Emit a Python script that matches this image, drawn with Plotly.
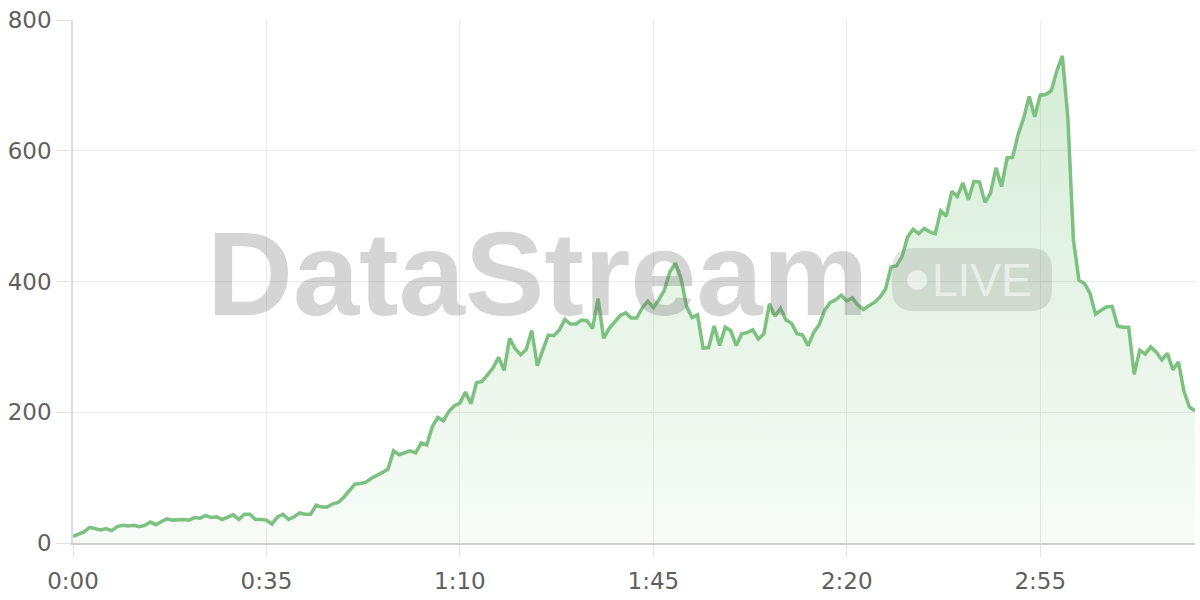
import plotly.graph_objects as go

# ---- data (one value per second) ----
values = [
    10, 14, 17, 24, 22, 20, 22, 19, 25, 27,
    26, 27, 25, 27, 32, 28, 33, 37, 35, 36,
    36, 35, 39, 38, 42, 39, 40, 36, 39, 43,
    36, 44, 44, 36, 36, 35, 29, 40, 44, 36,
    40, 46, 44, 44, 58, 55, 55, 60, 62, 70,
    80, 90, 91, 93, 99, 103, 108, 113, 141, 135,
    138, 141, 138, 153, 150, 178, 192, 187, 201, 210,
    214, 231, 213, 245, 247, 257, 268, 284, 264, 313,
    297, 288, 296, 325, 271, 295, 318, 317, 326, 342,
    335, 335, 341, 340, 328, 374, 313, 328, 338, 348,
    352, 344, 344, 360, 370, 360, 372, 387, 415, 428,
    405, 362, 345, 349, 298, 299, 332, 302, 330, 325,
    302, 320, 322, 326, 312, 320, 366, 347, 359, 341,
    336, 320, 318, 302, 322, 334, 356, 368, 372, 379,
    370, 375, 364, 357, 363, 368, 376, 388, 422, 424,
    438, 468, 480, 473, 481, 476, 473, 508, 500, 538,
    530, 551, 525, 553, 552, 521, 535, 574, 545, 589,
    590, 625, 650, 683, 652, 685, 686, 692, 722, 745,
    650, 464, 402, 397, 382, 350, 356, 361, 362, 332,
    330, 330, 258, 295, 289, 300, 292, 280, 290, 265,
    277, 232, 208, 202,
]
seconds = list(range(len(values)))

x_tick_vals = [0, 35, 70, 105, 140, 175]
x_tick_text = ["0:00", "0:35", "1:10", "1:45", "2:20", "2:55"]
y_tick_vals = [0, 200, 400, 600, 800]

watermark_text = "DataStream"
badge_text = "LIVE"

# ---- layout geometry (pixels) ----
W, H = 1200, 600
L, R, T, B = 73, 5, 20, 57
PW, PH = W - L - R, H - T - B


def px(x):
    return (x - L) / PW


def py(y):
    return (H - B - y) / PH


LINE = "rgb(124,193,127)"
TICK_FONT = dict(family="DejaVu Sans, Liberation Sans, sans-serif", size=23, color="#5f5f5f")

fig = go.Figure()
fig.add_trace(go.Scatter(
    x=seconds, y=values, mode="lines",
    line=dict(color=LINE, width=3.5),
    fill="tozeroy",
    fillgradient=dict(
        type="vertical",
        colorscale=[[0, "rgba(129,199,132,0.06)"], [1, "rgba(129,199,132,0.34)"]],
        start=0, stop=760,
    ),
    hoverinfo="skip", showlegend=False,
))

# rounded badge
bx0, bx1, by0, by1, r = 892, 1052, 248, 311, 22
rx, ry = r / PW, r / PH
X0, X1, Y0, Y1 = px(bx0), px(bx1), py(by1), py(by0)
path = (f"M {X0+rx},{Y0} L {X1-rx},{Y0} Q {X1},{Y0} {X1},{Y0+ry} "
        f"L {X1},{Y1-ry} Q {X1},{Y1} {X1-rx},{Y1} L {X0+rx},{Y1} "
        f"Q {X0},{Y1} {X0},{Y1-ry} L {X0},{Y0+ry} Q {X0},{Y0} {X0+rx},{Y0} Z")
shapes = [
    dict(type="path", xref="paper", yref="paper", path=path,
         fillcolor="rgba(120,120,120,0.20)", line=dict(width=0), layer="above"),
    dict(type="circle", xref="paper", yref="paper",
         x0=px(907), x1=px(927), y0=py(290), y1=py(270),
         fillcolor="rgba(255,255,255,0.55)", line=dict(width=0), layer="above"),
]

annotations = [
    dict(text=f"<b>{watermark_text}</b>", xref="paper", yref="paper",
         x=px(537), y=py(273), xanchor="center", yanchor="middle", showarrow=False,
         font=dict(family="Liberation Sans, Arial, sans-serif", size=119,
                   color="rgba(115,115,115,0.30)")),
    dict(text=badge_text, xref="paper", yref="paper",
         x=px(982), y=py(280), xanchor="center", yanchor="middle", showarrow=False,
         font=dict(family="Liberation Sans, Arial, sans-serif", size=46,
                   color="rgba(255,255,255,0.55)")),
]

fig.update_layout(
    width=W, height=H,
    margin=dict(l=L, r=R, t=T, b=B, autoexpand=False),
    paper_bgcolor="white", plot_bgcolor="white",
    shapes=shapes, annotations=annotations,
    showlegend=False,
)
fig.update_xaxes(
    range=[0, len(values) - 1], tickvals=x_tick_vals, ticktext=x_tick_text,
    showgrid=True, gridcolor="#ebebeb", gridwidth=1,
    showline=True, linecolor="#d0d0d0", linewidth=1.5,
    ticks="outside", ticklen=12, tickcolor="#e3e3e3", tickwidth=1,
    ticklabelstandoff=5,
    tickfont=TICK_FONT, zeroline=False, fixedrange=True, automargin=False,
)
fig.update_yaxes(
    range=[0, 800], tickvals=y_tick_vals,
    showgrid=True, gridcolor="#ebebeb", gridwidth=1,
    showline=True, linecolor="#dcdcdc", linewidth=1.5,
    ticks="outside", ticklen=15, tickcolor="#e3e3e3", tickwidth=1,
    tickfont=TICK_FONT, zeroline=False, fixedrange=True, automargin=False,
)

fig.write_html(
    "out.html",
    config={"displayModeBar": False},
    post_script="document.body.style.margin='0';document.body.style.padding='0';",
)
